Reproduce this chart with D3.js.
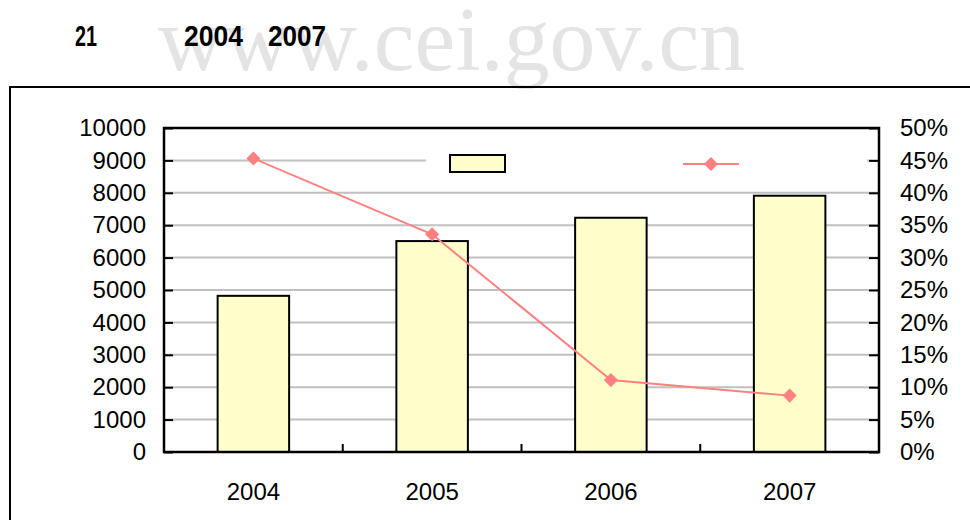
<html>
<head>
<meta charset="utf-8">
<script type="text/javascript" src="https://cdnjs.cloudflare.com/ajax/libs/d3/7.8.5/d3.min.js"></script>
<style>
	body { margin: 0; background: #fff; }
	text { font-family: "Liberation Sans", Arial, sans-serif; }
</style>
</head>
<body>
<div id="chart"></div>
<script type="text/javascript">
	// data
	var years = ["2004", "2005", "2006", "2007"];
	var values = [4820, 6510, 7230, 7910];
	var rates = [0.453, 0.336, 0.111, 0.087];
	var leftTicks = [0, 1000, 2000, 3000, 4000, 5000, 6000, 7000, 8000, 9000, 10000];
	var rightTicks = [0, 0.05, 0.10, 0.15, 0.20, 0.25, 0.30, 0.35, 0.40, 0.45, 0.50];

	// plot area (note: "top" is taken by window.top)
	var pLeft = 164, pRight = 879, pTop = 128, pBottom = 452;

	var svg = d3.select("#chart").append("svg")
		.attr("width", 970)
		.attr("height", 520);

	svg.append("rect").attr("width", 970).attr("height", 520).attr("fill", "#fff");

	// watermark
	svg.append("text")
		.attr("x", 158).attr("y", 70)
		.attr("textLength", 587).attr("lengthAdjust", "spacingAndGlyphs")
		.style("font-family", "'Liberation Serif', 'DejaVu Serif', serif")
		.style("font-size", "90px")
		.attr("fill", "#e4e4e4")
		.text("www.cei.gov.cn");

	// title pieces (the rest of the title is blank in the picture)
	var title = [["21", 75, 22], ["2004", 184, 59], ["2007", 268, 58]];
	svg.selectAll(".title").data(title).enter().append("text")
		.attr("class", "title")
		.attr("x", function(d) { return d[1]; })
		.attr("y", 46)
		.attr("textLength", function(d) { return d[2]; })
		.attr("lengthAdjust", "spacingAndGlyphs")
		.style("font-size", "29px")
		.style("font-weight", "bold")
		.attr("fill", "#000")
		.text(function(d) { return d[0]; });

	// outer frame
	svg.append("rect")
		.attr("x", 10).attr("y", 87)
		.attr("width", 990).attr("height", 500)
		.attr("fill", "none").attr("stroke", "#000").attr("stroke-width", 2);

	var x = d3.scaleBand().domain(years).range([pLeft, pRight]);
	var y = d3.scaleLinear().domain([0, 10000]).range([pBottom, pTop]);
	var y2 = d3.scaleLinear().domain([0, 0.5]).range([pBottom, pTop]);
	var bw = x.bandwidth();

	// gridlines
	svg.selectAll(".grid").data(leftTicks.slice(1, -1)).enter().append("line")
		.attr("x1", pLeft).attr("x2", pRight)
		.attr("y1", function(d) { return y(d); })
		.attr("y2", function(d) { return y(d); })
		.attr("stroke", "#c0c0c0").attr("stroke-width", 2);

	// legend box (labels are blank in the picture)
	svg.append("rect")
		.attr("x", 426).attr("y", 146).attr("width", 441).attr("height", 31)
		.attr("fill", "#fff");
	svg.append("rect")
		.attr("x", 450).attr("y", 155).attr("width", 55).attr("height", 17)
		.attr("fill", "#ffffcc").attr("stroke", "#000").attr("stroke-width", 2);
	svg.append("line")
		.attr("x1", 683).attr("x2", 739).attr("y1", 164).attr("y2", 164)
		.attr("stroke", "#ff8080").attr("stroke-width", 2);
	svg.append("path")
		.attr("d", d3.symbol(d3.symbolSquare, 100)())
		.attr("transform", "translate(711,164) rotate(45)")
		.attr("fill", "#ff8080");

	// bars
	svg.selectAll(".bar").data(values).enter().append("rect")
		.attr("x", function(d, i) { return x(years[i]) + bw * 0.3; })
		.attr("width", bw * 0.4)
		.attr("y", function(d) { return y(d); })
		.attr("height", function(d) { return pBottom - y(d); })
		.attr("fill", "#ffffcc").attr("stroke", "#000").attr("stroke-width", 2);

	// rate line
	var line = d3.line()
		.x(function(d, i) { return x(years[i]) + bw / 2; })
		.y(function(d) { return y2(d); });
	svg.append("path")
		.attr("d", line(rates))
		.attr("fill", "none").attr("stroke", "#ff8080").attr("stroke-width", 2);
	svg.selectAll(".mark").data(rates).enter().append("path")
		.attr("d", d3.symbol(d3.symbolSquare, 100)())
		.attr("transform", function(d, i) {
			return "translate(" + (x(years[i]) + bw / 2) + "," + y2(d) + ") rotate(45)";
		})
		.attr("fill", "#ff8080");

	// axes
	var gl = svg.append("g").attr("transform", "translate(" + pLeft + ",0)")
		.call(d3.axisLeft(y).tickValues(leftTicks).tickSize(-9).tickSizeOuter(0).tickPadding(18)
			.tickFormat(d3.format("d")));
	var gr = svg.append("g").attr("transform", "translate(" + pRight + ",0)")
		.call(d3.axisRight(y2).tickValues(rightTicks).tickSize(-10).tickSizeOuter(0).tickPadding(21)
			.tickFormat(d3.format(".0%")));
	var gb = svg.append("g").attr("transform", "translate(0," + pBottom + ")")
		.call(d3.axisBottom(x).tickSize(0).tickPadding(31));

	[gl, gr, gb].forEach(function(g) {
		g.select(".domain").remove();
		g.selectAll(".tick line").attr("stroke", "#000").attr("stroke-width", 2);
		g.selectAll("text")
			.style("font-family", "'Liberation Sans', Arial, sans-serif")
			.style("font-size", "24px").attr("fill", "#000");
	});

	// category boundary ticks on the bottom axis
	svg.selectAll(".xtick").data(years.slice(1)).enter().append("line")
		.attr("x1", function(d) { return x(d); }).attr("x2", function(d) { return x(d); })
		.attr("y1", pBottom).attr("y2", pBottom - 8)
		.attr("stroke", "#000").attr("stroke-width", 2);

	// plot border
	svg.append("rect")
		.attr("x", pLeft).attr("y", pTop)
		.attr("width", pRight - pLeft).attr("height", pBottom - pTop)
		.attr("fill", "none").attr("stroke", "#000").attr("stroke-width", 2.5);
</script>
</body>
</html>
